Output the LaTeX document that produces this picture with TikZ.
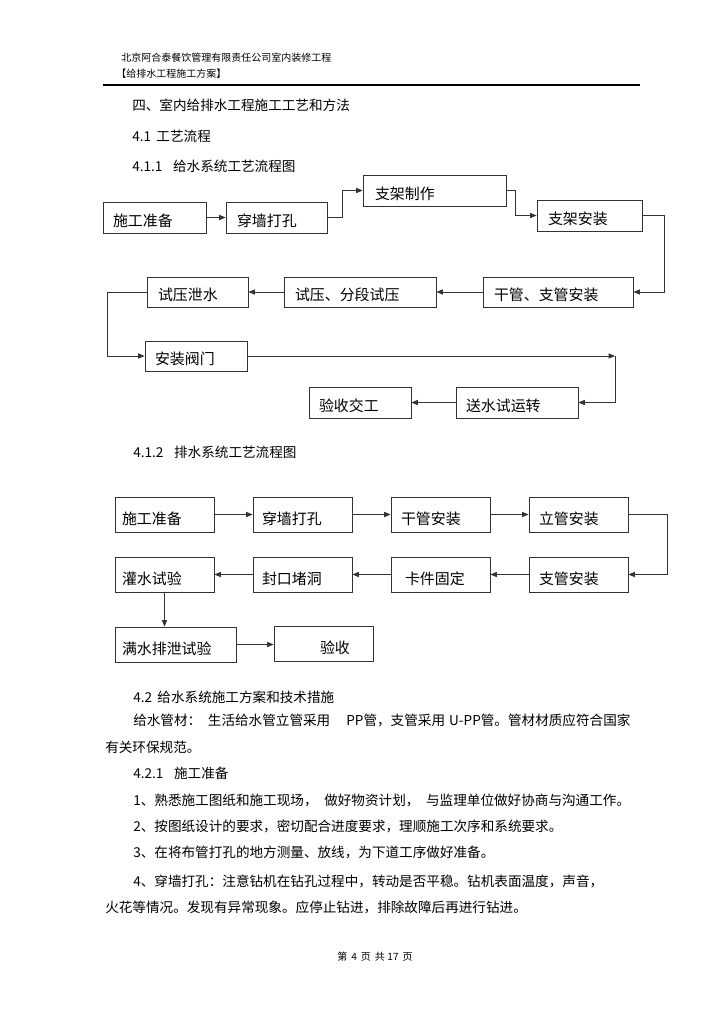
\documentclass[tikz,border=0pt]{standalone}
\usepackage{fontspec}
\setmainfont{Noto Sans CJK SC}
\usetikzlibrary{arrows.meta}
\newcommand{\bodyfs}{\fontsize{10.2pt}{12pt}\selectfont}
\newcommand{\boxfs}{\fontsize{11.2pt}{13pt}\selectfont}
\newcommand{\headfs}{\fontsize{7.5pt}{9pt}\selectfont}
\newcommand{\flowbox}[8][]{%
  \pgfmathsetmacro{\fbw}{(#5-#3)*0.75}%
  \pgfmathsetmacro{\fbh}{(#6-#4)*0.75}%
  \pgfmathsetmacro{\fbp}{#7*0.75}%
  \node[flowbox,#1,minimum width=\fbw pt,minimum height=\fbh pt,text width=\fbw pt] (#2) at ({(#3+#5)/2},{(#4+#6)/2}) {\noindent\hspace*{\fbp pt}#8};}
\tikzset{
  flowbox/.style={draw=black!80, line width=0.6pt, inner xsep=0pt, inner ysep=0pt, align=flush left, font=\boxfs},
  rowA/.style={text height=13.5pt, text depth=0.6pt},
  rowB/.style={text height=15.5pt, text depth=0.4pt},
  arr/.style={draw=black!80, line width=0.6pt, -{Triangle[length=4.8pt,width=3.8pt]}},
  txt/.style={anchor=west, inner sep=0pt, font=\bodyfs},
  hdr/.style={anchor=west, inner sep=0pt, font=\headfs},
}
\begin{document}
\begin{tikzpicture}[x=0.75pt,y=-0.75pt]
\fill[white] (0,0) rectangle (724,1024);
\useasboundingbox (0,0) rectangle (724,1024);

% header
\node[hdr] (h1) at (121,58) {北京阿合泰餐饮管理有限责任公司室内装修工程};
\node[hdr] (h2) at (116,74) {【给排水工程施工方案】};
\draw[line width=0.9pt] (103,85) -- (640,85);

% headings
\node[txt] (t1) at (132,105) {四、室内给排水工程施工工艺和方法};
\node[txt] (t2) at (132,136) {4.1\hspace{4pt}工艺流程};
\node[txt] (t3) at (132,166) {4.1.1\hspace{8pt}给水系统工艺流程图};
\node[txt] (t4) at (133,452) {4.1.2\hspace{8pt}排水系统工艺流程图};

% chart 1
\flowbox[rowA]{sg1}{103}{202}{206}{233}{10}{施工准备}
\flowbox[rowA]{ct1}{226}{202}{327}{233}{11}{穿墙打孔}
\flowbox[rowA]{zz}{363}{175}{506}{206}{12}{支架制作}
\flowbox[rowA]{za}{537}{200}{642}{231}{11}{支架安装}
\flowbox[rowA]{gz}{483}{277}{633}{307}{11}{干管、支管安装}
\flowbox[rowA]{fd}{284}{277}{436}{307}{11}{试压、分段试压}
\flowbox[rowA]{xs}{147}{277}{248}{307}{11}{试压泄水}
\flowbox[rowA]{fm}{145}{341}{247}{371}{10}{安装阀门}
\flowbox[rowA]{ys}{456}{387}{578}{418}{10}{送水试运转}
\flowbox[rowA]{yj}{309}{387}{411}{418}{10}{验收交工}
\coordinate (c1) at (615,356);

\draw[arr] (sg1.east) -- (ct1.west);
\draw[arr] (ct1.east) -- ++(15,0) |- (zz.west);
\draw[arr] (zz.east) -- ++(9,0) |- (za.west);
\draw[arr] (za.east) -- ++(22,0) |- (gz.east);
\draw[arr] (gz.west) -- (fd.east);
\draw[arr] (fd.west) -- (xs.east);
\draw[arr] (xs.west) -- ++(-39,0) |- (fm.west);
\draw[arr] (fm.east) -- (c1);
\draw[arr] (c1) |- (ys.east);
\draw[arr] (ys.west) -- (yj.east);

% chart 2
\flowbox[rowB]{s1}{115}{497}{214}{532}{7}{施工准备}
\flowbox[rowB]{s2}{253}{497}{352}{532}{9}{穿墙打孔}
\flowbox[rowB]{s3}{391}{497}{490}{532}{10}{干管安装}
\flowbox[rowB]{s4}{529}{497}{628}{532}{10}{立管安装}
\flowbox[rowB]{s5}{529}{557}{628}{592}{10}{支管安装}
\flowbox[rowB]{s6}{391}{557}{490}{592}{14}{卡件固定}
\flowbox[rowB]{s7}{253}{557}{352}{592}{9}{封口堵洞}
\flowbox[rowB]{s8}{115}{557}{214}{592}{7}{灌水试验}
\flowbox[rowB]{s9}{115}{627}{236}{662}{7}{满水排泄试验}
\flowbox[rowB]{s10}{274}{626}{373}{661}{46}{验收}

\draw[arr] (s1.east) -- (s2.west);
\draw[arr] (s2.east) -- (s3.west);
\draw[arr] (s3.east) -- (s4.west);
\draw[arr] (s4.east) -- ++(39,0) |- (s5.east);
\draw[arr] (s5.west) -- (s6.east);
\draw[arr] (s6.west) -- (s7.east);
\draw[arr] (s7.west) -- (s8.east);
\draw[arr] (s8.south) -- (s8.south |- s9.north);
\draw[arr] (s9.east) -- (s9.east -| s10.west);

% body text
\node[txt] (t5) at (133,697) {4.2\hspace{4pt}给水系统施工方案和技术措施};
\node[txt] (t6) at (133,720) {给水管材：\hspace{5pt}生活给水管立管采用\hspace{12pt}PP管，支管采用\hspace{3pt}U-PP管。管材材质应符合国家};
\node[txt] (t7) at (105,747) {有关环保规范。};
\node[txt] (t8) at (133,773) {4.2.1\hspace{8pt}施工准备};
\node[txt] (t9) at (133,800) {1、熟悉施工图纸和施工现场，\hspace{5pt}做好物资计划，\hspace{5pt}与监理单位做好协商与沟通工作。};
\node[txt] (t10) at (133,826) {2、按图纸设计的要求，密切配合进度要求，理顺施工次序和系统要求。};
\node[txt] (t11) at (133,852) {3、在将布管打孔的地方测量、放线，为下道工序做好准备。};
\node[txt] (t12) at (133,881) {4、穿墙打孔：注意钻机在钻孔过程中，转动是否平稳。钻机表面温度，声音，};
\node[txt] (t13) at (105,907) {火花等情况。发现有异常现象。应停止钻进，排除故障后再进行钻进。};

% footer
\node[hdr] (ft) at (337,957) {第\hspace{3pt}4\hspace{3pt}页\hspace{3pt}共\hspace{2pt}17\hspace{3pt}页};
\end{tikzpicture}
\end{document}
